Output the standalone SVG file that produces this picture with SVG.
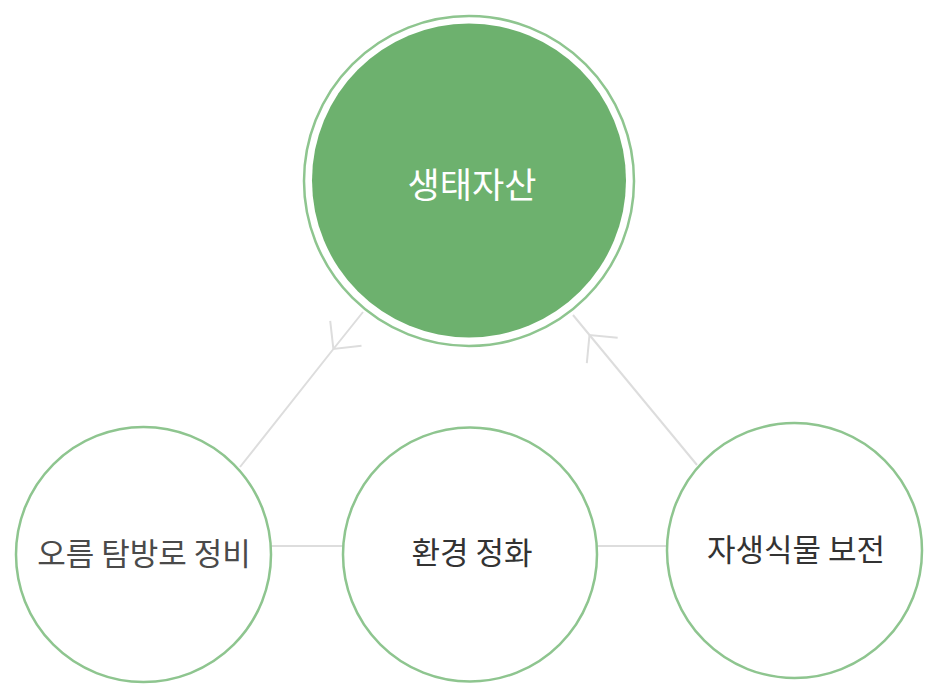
<svg xmlns="http://www.w3.org/2000/svg" width="930" height="699" viewBox="0 0 930 699">
<defs>
<style>
.ring{fill:#ffffff;stroke:#8ec58f;stroke-width:2.5}
.lbl{font-family:"Noto Sans CJK KR","Noto Sans",sans-serif;font-size:31px;text-anchor:middle;fill:#333333}
.con{fill:none;stroke:#dddddd;stroke-width:2}
</style>
<marker id="chev" markerUnits="userSpaceOnUse" markerWidth="60" markerHeight="60" viewBox="-30 -30 60 60" refX="0" refY="0" orient="auto" overflow="visible">
<path d="M-20,-20 L0,0 L-20,20" fill="none" stroke="#dddddd" stroke-width="2"/>
</marker>
</defs>
<rect width="930" height="699" fill="#ffffff"/>
<g id="connectors">
<path class="con" d="M363,312 L333.4,349 L240,467" marker-mid="url(#chev)"/>
<path class="con" d="M697,465 L589.5,335 L573,315" marker-mid="url(#chev)"/>
<line class="con" x1="271" y1="546" x2="344" y2="546"/>
<line class="con" x1="596" y1="546" x2="668" y2="546"/>
</g>
<g id="node-top">
<circle cx="469" cy="181" r="165" fill="#ffffff" stroke="#8ec58f" stroke-width="2.5"/>
<circle cx="469" cy="180.5" r="157" fill="#6db16e"/>
<text x="472" y="198" class="lbl" style="font-size:35px;fill:#ffffff">생태자산</text>
</g>
<g id="node-left">
<circle class="ring" cx="143.5" cy="554.5" r="127.5"/>
<text x="144" y="565" class="lbl" style="fill:#4a4a4a">오름 탐방로 정비</text>
</g>
<g id="node-mid">
<circle class="ring" cx="470" cy="554.5" r="127"/>
<text x="472" y="564" class="lbl">환경 정화</text>
</g>
<g id="node-right">
<circle class="ring" cx="794.5" cy="550.5" r="127.5"/>
<text x="796" y="561" class="lbl">자생식물 보전</text>
</g>
</svg>
